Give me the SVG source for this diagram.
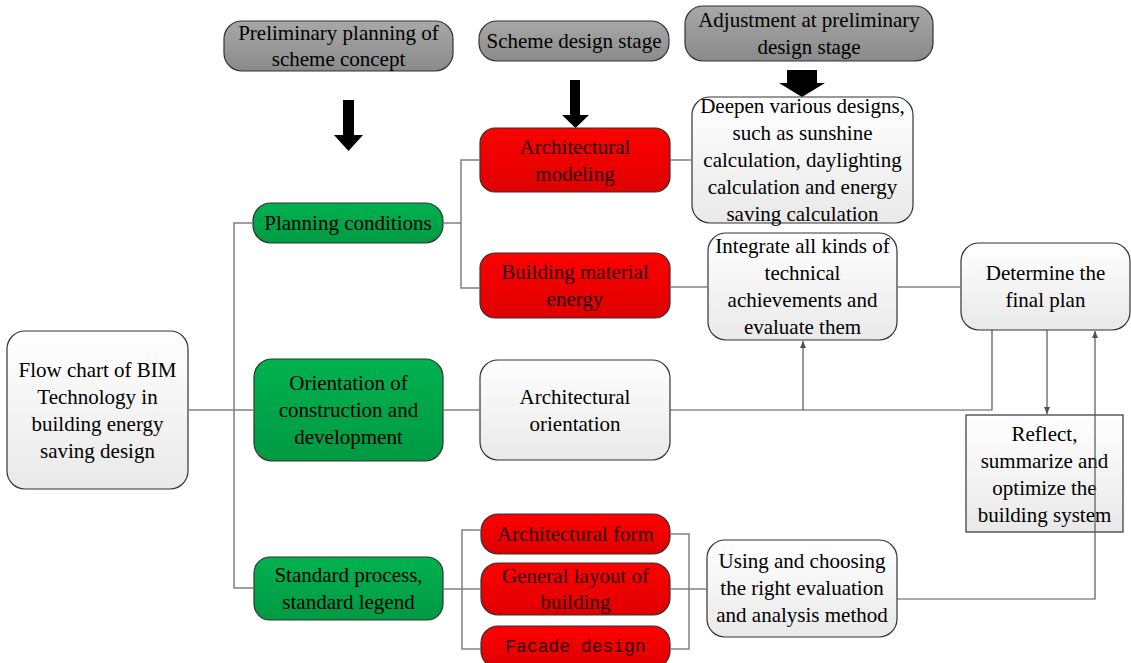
<svg xmlns="http://www.w3.org/2000/svg" width="1131" height="663" viewBox="0 0 1131 663">
<defs>
<linearGradient id="gGray" x1="0" y1="0" x2="0" y2="1"><stop offset="0" stop-color="#a8a8a8"/><stop offset="1" stop-color="#8a8a8a"/></linearGradient>
<linearGradient id="gGreen" x1="0" y1="0" x2="0" y2="1"><stop offset="0" stop-color="#00b24f"/><stop offset="1" stop-color="#009a42"/></linearGradient>
<linearGradient id="gRed" x1="0" y1="0" x2="0" y2="1"><stop offset="0" stop-color="#ff0000"/><stop offset="1" stop-color="#de0000"/></linearGradient>
<linearGradient id="gWhite" x1="0" y1="0" x2="0" y2="1"><stop offset="0" stop-color="#ffffff"/><stop offset="1" stop-color="#e9e9e9"/></linearGradient>
<marker id="ah" markerWidth="8" markerHeight="8" refX="7" refY="4" orient="auto" markerUnits="userSpaceOnUse"><path d="M0,1 L7,4 L0,7 Z" fill="#505050"/></marker>
<style>
.box{stroke:#333;stroke-width:1.2}
.gray{fill:url(#gGray)}
.green{fill:url(#gGreen)}
.red{fill:url(#gRed)}
.white{fill:url(#gWhite)}
text{font-family:"Liberation Serif","Times New Roman",serif;font-size:21px;fill:#000;text-anchor:middle}
.rt{fill:#2a0000}
.mono{font-family:"Liberation Mono","Courier New",monospace;font-size:18px}
.blk{fill:#000}
.con{fill:none;stroke:#808080;stroke-width:1.5}
.arr{fill:none;stroke:#555;stroke-width:1.2}
</style>
</defs>

<g id="n-prelim">
<rect class="box gray" x="224" y="21" width="229" height="50" rx="18"/>
<text x="338.5" y="39.5">Preliminary planning of</text>
<text x="338.5" y="66">scheme concept</text>
</g>
<g id="n-scheme">
<rect class="box gray" x="479" y="21" width="190" height="40" rx="18"/>
<text x="574" y="48">Scheme design stage</text>
</g>
<g id="n-adjust">
<rect class="box gray" x="685" y="6" width="248" height="55" rx="18"/>
<text x="809" y="27">Adjustment at preliminary</text>
<text x="809" y="54">design stage</text>
</g>

<g id="block-arrows">
<path class="blk" d="M343,100 H354 V135 H363 L348.5,151 L334,135 H343 Z"/>
<path class="blk" d="M570,80 H580 V115 H589 L575.5,128 L562,115 H570 Z"/>
<path class="blk" d="M787,70 H817 V83 H825 L802,97 L779,83 H787 Z"/>
</g>

<g id="n-flow">
<rect class="box white" x="7" y="331" width="181" height="158" rx="18"/>
<text x="97.5" y="377">Flow chart of BIM</text>
<text x="97.5" y="404">Technology in</text>
<text x="97.5" y="431">building energy</text>
<text x="97.5" y="458">saving design</text>
</g>

<g id="n-planning">
<rect class="box green" x="253" y="203" width="190" height="40" rx="18"/>
<text x="348" y="230">Planning conditions</text>
</g>
<g id="n-orientation">
<rect class="box green" x="254" y="359" width="189" height="102" rx="18"/>
<text x="348.5" y="390">Orientation of</text>
<text x="348.5" y="417">construction and</text>
<text x="348.5" y="444">development</text>
</g>
<g id="n-standard">
<rect class="box green" x="254" y="557" width="189" height="63" rx="16"/>
<text x="348.5" y="582">Standard process,</text>
<text x="348.5" y="609">standard legend</text>
</g>

<g id="n-archmodel">
<rect class="box red" x="480" y="128" width="190" height="64" rx="15"/>
<text class="rt" x="575" y="153.5">Architectural</text>
<text class="rt" x="575" y="180.5">modeling</text>
</g>
<g id="n-material">
<rect class="box red" x="480" y="253" width="190" height="65" rx="15"/>
<text class="rt" x="575" y="279">Building material</text>
<text class="rt" x="575" y="306">energy</text>
</g>
<g id="n-archorient">
<rect class="box white" x="480" y="360" width="190" height="100" rx="18"/>
<text x="575" y="403.5">Architectural</text>
<text x="575" y="430.5">orientation</text>
</g>
<g id="n-archform">
<rect class="box red" x="481" y="514" width="189" height="40" rx="17"/>
<text class="rt" x="575.5" y="541">Architectural form</text>
</g>
<g id="n-layout">
<rect class="box red" x="481" y="563" width="189" height="52" rx="17"/>
<text class="rt" x="575.5" y="583">General layout of</text>
<text class="rt" x="575.5" y="609">building</text>
</g>
<g id="n-facade">
<rect class="box red" x="481" y="626" width="189" height="42" rx="17"/>
<text class="rt mono" x="575.5" y="652">Facade design</text>
</g>

<g id="n-deepen">
<rect class="box white" x="692" y="97" width="221" height="126" rx="18"/>
<text x="802.5" y="113">Deepen various designs,</text>
<text x="802.5" y="140">such as sunshine</text>
<text x="802.5" y="167">calculation, daylighting</text>
<text x="802.5" y="194">calculation and energy</text>
<text x="802.5" y="221">saving calculation</text>
</g>
<g id="n-integrate">
<rect class="box white" x="708" y="233" width="189" height="107" rx="18"/>
<text x="802.5" y="253">Integrate all kinds of</text>
<text x="802.5" y="280">technical</text>
<text x="802.5" y="307">achievements and</text>
<text x="802.5" y="334">evaluate them</text>
</g>
<g id="n-determine">
<rect class="box white" x="961" y="243" width="169" height="87" rx="18"/>
<text x="1045.5" y="280">Determine the</text>
<text x="1045.5" y="307">final plan</text>
</g>
<g id="n-reflect">
<rect class="box white" x="966" y="415" width="157" height="117"/>
<text x="1044.5" y="441">Reflect,</text>
<text x="1044.5" y="468">summarize and</text>
<text x="1044.5" y="495">optimize the</text>
<text x="1044.5" y="522">building system</text>
</g>
<g id="n-using">
<rect class="box white" x="707" y="540" width="190" height="97" rx="18"/>
<text x="802" y="568">Using and choosing</text>
<text x="802" y="595">the right evaluation</text>
<text x="802" y="622">and analysis method</text>
</g>

<g id="connectors">
<path class="con" d="M188,410 H254"/>
<path class="con" d="M253,223 H234 V588 H254"/>
<path class="con" d="M443,223 H461"/>
<path class="con" d="M480,160 H461 V288 H480"/>
<path class="con" d="M670,160 H692"/>
<path class="con" d="M670,287 H708"/>
<path class="con" d="M897,287 H961"/>
<path class="con" d="M443,410 H480"/>
<path class="arr" d="M670,410 H992 V330"/>
<path class="arr" d="M803,410 V341" marker-end="url(#ah)"/>
<path class="arr" d="M1047,330 V414" marker-end="url(#ah)"/>
<path class="con" d="M443,589 H481"/>
<path class="con" d="M481,530 H462 V649 H481"/>
<path class="con" d="M670,534 H689 V649 H670"/>
<path class="con" d="M670,589 H707"/>
<path class="arr" d="M897,599 H1095 V331" marker-end="url(#ah)"/>
</g>
</svg>
